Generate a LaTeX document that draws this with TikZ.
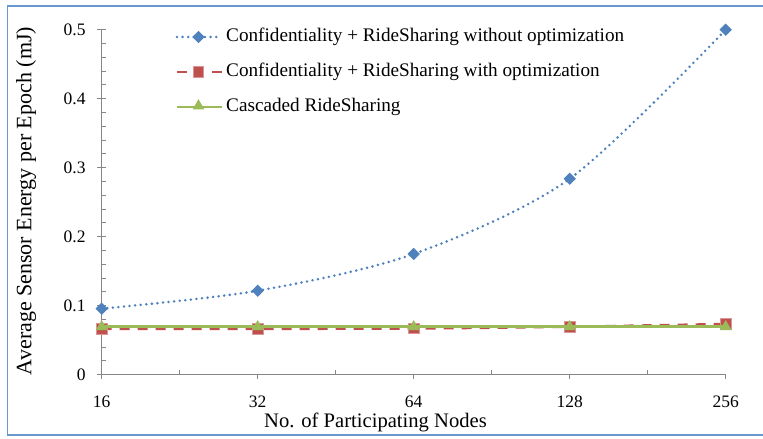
\documentclass[tikz,border=0pt]{standalone}
\usepackage{fontspec}
\setmainfont{Liberation Serif}
\usetikzlibrary{shapes.geometric}
\definecolor{frameblue}{HTML}{6A97CF}
\definecolor{axisgray}{HTML}{868686}
\definecolor{serblue}{HTML}{4F81BD}
\definecolor{serred}{HTML}{C0504D}
\definecolor{sergreen}{HTML}{9BBB59}
\tikzset{
  axisline/.style={draw=axisgray, line width=1.4pt},
  tickline/.style={draw=axisgray, line width=1pt},
  lbl/.style={font=\fontsize{17.5}{21}\selectfont, inner sep=0pt},
  leg/.style={font=\fontsize{19.2}{23}\selectfont, inner sep=0pt},
  ttl/.style={font=\fontsize{20.6}{24}\selectfont, inner sep=0pt},
  blueline/.style={draw=serblue, line width=2.8pt, line cap=round, dash pattern=on 0pt off 5.6pt},
  redline/.style={draw=serred, line width=2.5pt, dash pattern=on 10pt off 8pt},
  greenline/.style={draw=sergreen, line width=2.8pt},
  bmark/.style={diamond, fill=serblue, inner sep=0pt, minimum size=12.5pt},
  rmark/.style={rectangle, fill=serred, draw=serred!60!white, line width=0.6pt, inner sep=0pt, minimum size=10.5pt},
  gmark/.style={regular polygon, regular polygon sides=3, fill=sergreen, inner sep=0pt, minimum size=13.5pt},
}
\begin{document}
\begin{tikzpicture}[x=1pt,y=1pt]
\useasboundingbox (0,0) rectangle (763,439);
% chart frame (open on the right)
\draw[frameblue, line width=1.6pt] (763,433) -- (7.5,433) -- (7.5,3.7) -- (763,3.7);

\begin{scope}[shift={(101.7,64.3)}, x=156pt, y=690pt]
  % axes
  \coordinate (o) at (0,0);
  \coordinate (xend) at (4,0);
  \coordinate (yend) at (0,0.5);
  \foreach \i in {1,...,25} \draw[tickline] (0,\i/50) -- ++(4pt,0);
  \foreach \i in {0,...,5} \draw[tickline] ([xshift=-4.5pt]0,\i/10) -- ++(8.5pt,0);
  \foreach \k in {0,...,4} \draw[tickline] (\k,0) -- ++(0,-4.8pt);
  \foreach \k in {0,...,3} \draw[tickline] (\k+0.5,0) -- ++(0,4.3pt);
  \draw[axisline] (yend) -- (o) -- (xend);
  % y labels
  \foreach \i/\t in {0/0,1/0.1,2/0.2,3/0.3,4/0.4,5/0.5}
    \node[lbl, anchor=east] (yl\i) at ([xshift=-16pt]0,\i/10) {\t};
  % x labels
  \foreach \k/\t in {0/16,1/32,2/64,3/128,4/256}
    \node[lbl] (xl\k) at ([yshift=-27pt]\k,0) {\t};

  % data points
  \coordinate (b0) at (0,0.0957);
  \coordinate (b1) at (1,0.1217);
  \coordinate (b2) at (2,0.175);
  \coordinate (b3) at (3,0.284);
  \coordinate (b4) at (4,0.5);
  \coordinate (r0) at (0,0.0665);
  \coordinate (r1) at (1,0.0665);
  \coordinate (r2) at (2,0.067);
  \coordinate (r3) at (3,0.0695);
  \coordinate (r4) at (4,0.0735);
  \foreach \k in {0,...,4} \coordinate (g\k) at (\k,0.0695);

  \draw[blueline] plot[smooth] coordinates {(b0) (b1) (b2) (b3) (b4)};
  \draw[redline] plot[smooth] coordinates {(r0) (r1) (r2) (r3) (r4)};
  \foreach \k in {0,...,4} \node[rmark] (rm\k) at (r\k) {};
  \draw[greenline] plot[smooth] coordinates {(g0) (g1) (g2) (g3) (g4)};
  \foreach \k in {0,...,4} \node[gmark] (gm\k) at (g\k) {};
  \foreach \k in {0,...,4} \node[bmark] (bm\k) at (b\k) {};
\end{scope}

% axis titles
\node[ttl] (xtitle) at (375.5,17) {No. of Participating Nodes};
\node[ttl, font=\fontsize{22}{26}\selectfont, rotate=90] (ytitle) at (26,238) {Average Sensor Energy per Epoch (mJ)};

% legend
\coordinate (lb1) at (177,402); \coordinate (lb2) at (221,402);
\draw[blueline] (lb1) -- (lb2);
\node[bmark] (lbm) at (198.5,402) {};
\node[leg, anchor=west] (lbt) at (226,402) {Confidentiality + RideSharing without optimization};

\coordinate (lr1) at (177,367); \coordinate (lr2) at (187,367);
\coordinate (lr3) at (212,367); \coordinate (lr4) at (222,367);
\draw[draw=serred, line width=2.5pt] (lr1) -- (lr2);
\draw[draw=serred, line width=2.5pt] (lr3) -- (lr4);
\node[rmark] (lrm) at (198.5,367) {};
\node[leg, anchor=west] (lrt) at (226,367) {Confidentiality + RideSharing with optimization};

\coordinate (lg1) at (177,332); \coordinate (lg2) at (222,332);
\draw[greenline] (lg1) -- (lg2);
\node[gmark] (lgm) at (198.5,333) {};
\node[leg, anchor=west] (lgt) at (226,332) {Cascaded RideSharing};
\end{tikzpicture}
\end{document}
